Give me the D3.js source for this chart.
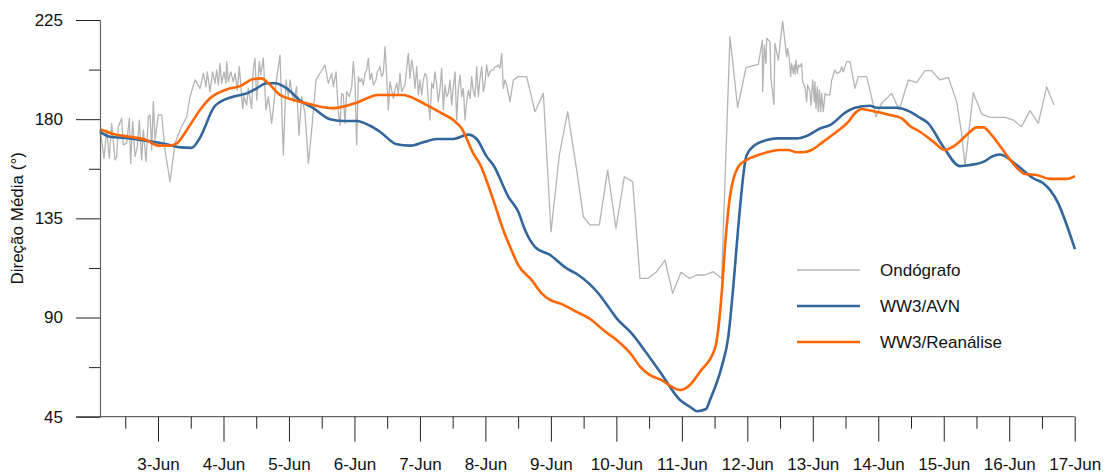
<!DOCTYPE html>
<html>
<head>
<meta charset="utf-8">
<script src="https://cdn.jsdelivr.net/npm/d3@7"></script>
<style>
  body { margin: 0; background: #fff; }
  svg { font-family: "Liberation Sans", Arial, sans-serif; }
</style>
</head>
<body>
<div id="chart"></div>
<script>
// days are June dates (decimal), values are mean direction in degrees
const ondografo = [
  [2.114,175.1],[2.139,170.5],[2.175,162.2],[2.216,175.1],[2.257,162.2],[2.292,178.1],[2.343,161.5],[2.369,163.0],
  [2.394,176.6],[2.445,180.4],[2.470,168.3],[2.521,169.0],[2.562,180.4],[2.582,159.9],[2.613,178.9],[2.649,163.0],
  [2.684,167.5],[2.715,179.6],[2.750,161.5],[2.776,175.1],[2.817,160.7],[2.852,181.1],[2.878,181.9],[2.903,166.0],
  [2.929,187.9],[2.954,170.5],[3.005,181.9],[3.056,181.9],[3.107,166.0],[3.183,151.6],[3.260,169.0],[3.336,175.1],
  [3.438,181.1],[3.489,190.2],[3.565,197.8],[3.641,194.0],[3.692,200.8],[3.733,194.7],[3.753,201.5],[3.794,192.5],
  [3.835,201.5],[3.870,196.3],[3.896,202.3],[3.921,195.5],[3.947,205.3],[3.972,196.3],[4.008,201.5],[4.038,196.3],
  [4.048,206.1],[4.074,197.0],[4.109,201.5],[4.150,197.0],[4.176,200.8],[4.211,193.2],[4.242,203.8],[4.293,184.9],
  [4.313,190.2],[4.354,186.4],[4.379,194.0],[4.430,184.9],[4.456,203.1],[4.481,207.6],[4.507,188.7],[4.547,206.1],
  [4.568,200.0],[4.608,207.6],[4.649,184.2],[4.685,190.2],[4.736,178.1],[4.812,198.5],[4.863,209.1],[4.914,163.7],
  [4.955,197.8],[4.990,190.2],[5.016,197.8],[5.067,187.9],[5.117,194.7],[5.153,172.8],[5.194,190.2],[5.245,182.6],
  [5.296,159.9],[5.347,175.1],[5.413,197.8],[5.550,204.6],[5.601,196.3],[5.652,200.8],[5.678,194.7],[5.718,201.5],
  [5.754,183.4],[5.780,177.3],[5.805,191.7],[5.830,191.0],[5.856,178.1],[5.881,192.5],[5.922,190.2],[5.958,194.7],
  [5.983,206.1],[6.009,196.3],[6.034,168.3],[6.060,199.3],[6.085,197.0],[6.110,198.5],[6.136,195.5],[6.161,200.8],
  [6.187,202.3],[6.212,207.6],[6.238,197.8],[6.263,200.8],[6.289,195.5],[6.329,197.8],[6.350,201.5],[6.390,203.8],
  [6.416,199.3],[6.441,200.8],[6.467,212.9],[6.492,200.0],[6.518,184.2],[6.543,197.0],[6.594,189.4],[6.619,193.2],
  [6.645,196.3],[6.670,191.7],[6.696,200.8],[6.721,192.5],[6.772,195.5],[6.798,203.1],[6.823,209.9],[6.849,198.5],
  [6.874,206.8],[6.899,202.3],[6.925,194.0],[6.950,203.8],[6.976,191.0],[7.001,197.8],[7.027,191.0],[7.052,197.8],
  [7.078,200.8],[7.103,199.3],[7.129,187.9],[7.154,179.6],[7.179,196.3],[7.205,194.0],[7.230,201.5],[7.256,195.5],
  [7.281,187.9],[7.307,194.0],[7.332,203.1],[7.358,184.2],[7.383,195.5],[7.409,190.2],[7.434,191.7],[7.459,197.8],
  [7.485,186.4],[7.510,194.7],[7.536,201.5],[7.561,179.6],[7.587,194.0],[7.612,200.0],[7.638,190.2],[7.663,194.0],
  [7.689,179.6],[7.714,187.9],[7.739,193.2],[7.765,189.4],[7.790,199.3],[7.816,192.5],[7.841,190.2],[7.867,203.8],
  [7.892,190.2],[7.918,198.5],[7.943,203.8],[7.969,192.5],[7.994,196.3],[8.019,204.6],[8.045,199.3],[8.070,201.5],
  [8.096,202.3],[8.121,202.3],[8.146,203.8],[8.172,203.8],[8.198,204.6],[8.223,203.1],[8.249,209.9],[8.274,194.0],
  [8.299,197.8],[8.325,195.5],[8.376,187.9],[8.427,197.8],[8.503,199.3],[8.528,199.3],[8.630,199.3],[8.757,183.4],
  [8.885,191.7],[9.002,128.9],[9.129,163.7],[9.256,183.4],[9.394,156.9],[9.496,135.8],[9.597,132.0],[9.740,132.0],
  [9.867,156.9],[9.994,130.5],[10.122,153.9],[10.249,151.6],[10.361,107.8],[10.488,107.8],[10.616,110.8],[10.743,116.1],
  [10.860,101.0],[10.987,110.5],[11.114,107.8],[11.226,109.3],[11.354,109.3],[11.481,110.8],[11.608,107.8],[11.735,217.4],
  [11.852,185.2],[11.980,203.4],[12.091,204.3],[12.168,204.9],[12.229,215.9],[12.234,192.5],[12.260,213.6],[12.285,205.3],
  [12.295,216.7],[12.346,215.2],[12.361,198.5],[12.407,186.7],[12.422,214.4],[12.473,206.8],[12.539,224.5],[12.601,208.4],
  [12.616,212.1],[12.641,207.6],[12.662,199.3],[12.677,205.3],[12.702,200.8],[12.718,204.6],[12.728,200.3],[12.743,206.8],
  [12.764,200.8],[12.779,204.6],[12.804,203.8],[12.830,205.3],[12.845,197.0],[12.881,194.7],[12.906,187.9],[12.921,195.5],
  [12.957,192.5],[12.972,186.4],[12.998,197.8],[13.023,187.9],[13.033,197.0],[13.049,184.9],[13.069,194.7],[13.084,183.4],
  [13.100,193.2],[13.120,183.4],[13.135,191.7],[13.161,183.4],[13.186,191.7],[13.211,191.0],[13.262,191.0],[13.288,197.8],
  [13.339,202.3],[13.364,200.8],[13.415,201.5],[13.441,203.8],[13.466,201.5],[13.517,206.1],[13.568,206.1],[13.644,194.0],
  [13.695,199.3],[13.771,199.3],[13.822,199.3],[13.873,193.2],[13.965,181.1],[14.051,187.2],[14.204,191.7],[14.321,184.2],
  [14.459,197.8],[14.586,196.6],[14.713,202.0],[14.815,202.0],[14.942,197.8],[15.070,199.0],[15.197,187.9],[15.273,173.6],
  [15.324,158.8],[15.451,192.0],[15.579,182.3],[15.706,180.8],[15.935,180.8],[16.062,179.6],[16.189,176.6],[16.317,183.9],
  [16.444,178.1],[16.571,194.7],[16.683,186.4]
];

const ww3Avn = [
  [2.114,174.2],[2.267,172.0],[2.572,171.3],[2.878,170.0],[3.133,168.6],[3.336,167.2],[3.515,167.0],[3.641,171.6],
  [3.870,186.0],[4.145,190.2],[4.355,191.7],[4.507,194.0],[4.660,196.3],[4.787,196.3],[4.965,194.0],[5.169,188.5],
  [5.372,185.0],[5.627,180.0],[5.825,179.2],[6.035,179.2],[6.238,177.0],[6.390,174.3],[6.645,168.6],[6.848,168.0],
  [7.052,169.5],[7.256,171.0],[7.510,171.0],[7.739,173.0],[7.867,171.0],[8.020,163.0],[8.121,159.2],[8.350,144.8],
  [8.502,138.0],[8.605,129.7],[8.757,122.1],[8.987,118.4],[9.242,112.3],[9.419,109.3],[9.724,101.0],[9.877,94.9],
  [10.005,89.6],[10.234,82.8],[10.463,73.8],[10.666,65.4],[10.972,52.6],[11.124,49.5],[11.231,47.5],[11.369,48.5],
  [11.430,52.6],[11.609,67.7],[11.710,81.3],[11.786,104.0],[11.862,131.2],[11.990,163.7],[12.117,168.3],[12.296,170.5],
  [12.449,171.3],[12.754,171.3],[12.907,172.4],[13.110,175.8],[13.263,177.3],[13.518,183.4],[13.644,185.2],[13.873,186.1],
  [13.976,185.2],[14.281,185.2],[14.484,183.4],[14.611,181.1],[14.764,178.1],[14.993,167.5],[15.248,158.7],[15.401,159.2],
  [15.630,161.0],[15.732,163.0],[15.859,164.0],[16.114,159.2],[16.367,153.2],[16.520,150.9],[16.622,147.9],[16.749,141.8],
  [16.878,132.0],[17.004,121.0]
];

const ww3Reanalise = [
  [2.114,175.4],[2.317,173.3],[2.572,172.0],[2.827,170.5],[3.005,168.0],[3.183,168.0],[3.286,169.0],[3.438,175.0],
  [3.641,184.2],[3.794,189.5],[4.049,193.5],[4.252,195.0],[4.455,198.2],[4.584,198.5],[4.660,197.0],[4.863,191.0],
  [5.066,188.7],[5.271,187.2],[5.424,186.0],[5.653,185.0],[5.830,185.7],[6.035,187.5],[6.364,191.0],[6.746,191.0],
  [6.848,190.2],[7.104,186.4],[7.357,182.3],[7.510,179.6],[7.638,175.8],[7.815,164.5],[7.918,159.5],[8.121,143.3],
  [8.273,129.7],[8.376,122.1],[8.502,113.8],[8.707,107.0],[8.860,101.0],[8.987,98.0],[9.139,96.4],[9.394,92.6],
  [9.623,88.9],[9.800,84.3],[10.005,79.8],[10.234,73.0],[10.361,67.7],[10.514,63.9],[10.692,61.6],[10.845,58.6],
  [10.972,57.1],[11.124,59.4],[11.277,65.4],[11.506,76.0],[11.609,101.0],[11.659,122.1],[11.735,144.8],[11.862,158.4],
  [11.990,161.5],[12.193,164.0],[12.499,166.0],[12.626,166.0],[12.754,165.0],[12.855,165.0],[12.983,166.0],[13.160,169.8],
  [13.365,174.3],[13.542,178.8],[13.644,182.7],[13.747,184.6],[13.873,183.9],[14.179,181.9],[14.358,180.4],[14.484,176.9],
  [14.637,174.3],[14.840,169.8],[15.019,166.0],[15.121,167.2],[15.248,170.0],[15.401,174.3],[15.503,176.3],[15.605,176.3],
  [15.732,172.8],[15.885,166.8],[16.037,160.7],[16.241,155.1],[16.419,154.7],[16.622,152.9],[16.878,152.9],[17.004,154.2]
];

const dayTicks = d3.range(3, 18);
const halfDayTicks = d3.range(2.5, 17, 1);
const yTicks = [45, 90, 135, 180, 225];
const yMinorTicks = [67.5, 112.5, 157.5, 202.5];

const series = [
  { name: "Ondógrafo", data: ondografo, color: "#b4b4b4", width: 1.3, curve: d3.curveLinear },
  { name: "WW3/AVN", data: ww3Avn, color: "#33669a", width: 2.6, curve: d3.curveMonotoneX },
  { name: "WW3/Reanálise", data: ww3Reanalise, color: "#ff6600", width: 2.6, curve: d3.curveMonotoneX }
];

const width = 1107, height = 475;

const svg = d3.select("#chart").append("svg")
  .attr("width", width)
  .attr("height", height);

const x = d3.scaleLinear().domain([2.114, 17]).range([100, 1074.7]);
const y = d3.scaleLinear().domain([45, 225]).range([416.7, 20]);

// lines first so the axis sits on top
const line = d3.line().x(d => x(d[0])).y(d => y(d[1]));

svg.append("g")
  .attr("fill", "none")
  .attr("stroke-linejoin", "round")
  .selectAll("path")
  .data(series)
  .join("path")
  .attr("stroke", d => d.color)
  .attr("stroke-width", d => d.width)
  .attr("d", d => line.curve(d.curve)(d.data));

// y axis
svg.append("g")
  .attr("transform", `translate(${x(2.114)},0)`)
  .call(d3.axisLeft(y).tickValues(yTicks).tickSize(24).tickPadding(13).tickFormat(d3.format("d")));

svg.append("g")
  .attr("transform", `translate(${x(2.114)},0)`)
  .call(d3.axisLeft(y).tickValues(yMinorTicks).tickSize(11).tickFormat(""))
  .call(g => g.select(".domain").remove());

// x axis
const xAxis = svg.append("g")
  .attr("transform", `translate(0,${y(45)})`)
  .call(d3.axisBottom(x).tickValues(dayTicks).tickSize(25).tickPadding(16).tickFormat(d => `${d}-Jun`));

svg.append("g")
  .attr("transform", `translate(0,${y(45)})`)
  .call(d3.axisBottom(x).tickValues(halfDayTicks).tickSize(12).tickFormat(""))
  .call(g => g.select(".domain").remove());

svg.selectAll(".domain").attr("stroke", "#666").attr("stroke-width", 1.2);
svg.selectAll(".tick line").attr("stroke", "#222");
svg.selectAll(".tick text").attr("font-size", 17).attr("fill", "#111")
  .attr("font-family", "'Liberation Sans', Arial, sans-serif");

// extend x axis line to meet the 45 tick
xAxis.select(".domain").attr("d", `M76,0H${x(17)}`);

// y axis title
svg.append("text")
  .attr("transform", `translate(23,${(y(45) + y(225)) / 2}) rotate(-90)`)
  .attr("text-anchor", "middle")
  .attr("font-size", 17)
  .attr("fill", "#111")
  .text("Direção Média (°)");

// legend
const legend = svg.append("g").attr("transform", "translate(797,270)");
const item = legend.selectAll("g")
  .data(series)
  .join("g")
  .attr("transform", (d, i) => `translate(0,${i * 36})`);

item.append("line")
  .attr("x1", 0).attr("x2", 63)
  .attr("stroke", d => d.color)
  .attr("stroke-width", d => d.width);

item.append("text")
  .attr("x", 83)
  .attr("dy", "0.35em")
  .attr("font-size", 17)
  .attr("fill", "#111")
  .text(d => d.name);
</script>
</body>
</html>
